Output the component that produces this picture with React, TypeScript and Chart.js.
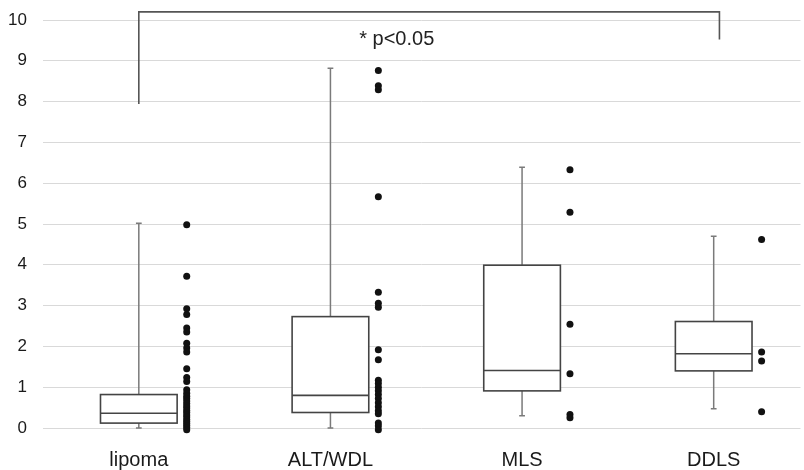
import React, { useEffect, useRef } from 'react';
import { Chart, registerables } from 'chart.js';

Chart.register(...registerables);

const categories = ['lipoma', 'ALT/WDL', 'MLS', 'DDLS'];
const whiskerLow = [0, 0, 0.3, 0.47];
const q1 = [0.12, 0.38, 0.91, 1.4];
const median = [0.36, 0.8, 1.41, 1.82];
const q3 = [0.82, 2.73, 3.99, 2.61];
const whiskerHigh = [5.02, 8.82, 6.39, 4.7];

const lipomaPoints = [4.98, 3.72, 2.92, 2.78, 2.45, 2.35, 2.08, 1.96, 1.86, 1.45, 1.24, 1.14, 0.94, 0.85, 0.78, 0.72, 0.66, 0.6, 0.54, 0.49, 0.43, 0.38, 0.32, 0.27, 0.21, 0.16, 0.11, 0.06, 0.01, -0.04, -0.09];
const altPoints = [8.76, 8.39, 8.29, 5.67, 3.33, 3.06, 2.96, 1.92, 1.67, 1.17, 1.09, 1.0, 0.91, 0.82, 0.72, 0.62, 0.52, 0.42, 0.35, 0.12, 0.05, -0.04, -0.09];
const mlsPoints = [6.33, 5.29, 2.54, 1.33, 0.33, 0.25];
const ddlsPoints = [4.62, 1.86, 1.64, 0.4];
const pointGroups = [lipomaPoints, altPoints, mlsPoints, ddlsPoints];

const yTickValues = [0, 1, 2, 3, 4, 5, 6, 7, 8, 9, 10];

const bracketX = [0, 3.03];
const bracketY = [7.94, 10.2, 9.52];
const sigLabel = '* p<0.05';
const sigLabelPos = [1.15, 9.38];

const BOX_HALF = 0.2;
const POINT_OFFSET = 0.25;
const CAP_HALF = 0.015;

const boxPlugin = {
  id: 'boxPlugin',
  beforeDatasetsDraw(chart: any) {
    const { ctx } = chart;
    const xs = chart.scales.x;
    const ys = chart.scales.y;
    ctx.save();
    categories.forEach((_, i) => {
      const cx = xs.getPixelForValue(i);
      const l = xs.getPixelForValue(i - BOX_HALF);
      const r = xs.getPixelForValue(i + BOX_HALF);
      const capL = xs.getPixelForValue(i - CAP_HALF);
      const capR = xs.getPixelForValue(i + CAP_HALF);
      const yLo = ys.getPixelForValue(whiskerLow[i]);
      const yQ1 = ys.getPixelForValue(q1[i]);
      const yMed = ys.getPixelForValue(median[i]);
      const yQ3 = ys.getPixelForValue(q3[i]);
      const yHi = ys.getPixelForValue(whiskerHigh[i]);
      ctx.strokeStyle = '#7a7a7a';
      ctx.lineWidth = 1.5;
      ctx.beginPath();
      ctx.moveTo(cx, yQ3);
      ctx.lineTo(cx, yHi);
      ctx.moveTo(capL, yHi);
      ctx.lineTo(capR, yHi);
      ctx.moveTo(cx, yQ1);
      ctx.lineTo(cx, yLo);
      ctx.moveTo(capL, yLo);
      ctx.lineTo(capR, yLo);
      ctx.stroke();
      ctx.fillStyle = '#ffffff';
      ctx.fillRect(l, yQ3, r - l, yQ1 - yQ3);
      ctx.strokeStyle = '#444444';
      ctx.lineWidth = 1.6;
      ctx.strokeRect(l, yQ3, r - l, yQ1 - yQ3);
      ctx.beginPath();
      ctx.moveTo(l, yMed);
      ctx.lineTo(r, yMed);
      ctx.stroke();
    });
    ctx.restore();
  },
  afterDatasetsDraw(chart: any) {
    const { ctx } = chart;
    const xs = chart.scales.x;
    const ys = chart.scales.y;
    ctx.save();
    ctx.strokeStyle = '#555555';
    ctx.lineWidth = 1.6;
    ctx.beginPath();
    ctx.moveTo(xs.getPixelForValue(bracketX[0]), ys.getPixelForValue(bracketY[0]));
    ctx.lineTo(xs.getPixelForValue(bracketX[0]), ys.getPixelForValue(bracketY[1]));
    ctx.lineTo(xs.getPixelForValue(bracketX[1]), ys.getPixelForValue(bracketY[1]));
    ctx.lineTo(xs.getPixelForValue(bracketX[1]), ys.getPixelForValue(bracketY[2]));
    ctx.stroke();
    ctx.fillStyle = '#222222';
    ctx.font = '20px "Liberation Sans", Arial, sans-serif';
    ctx.textAlign = 'left';
    ctx.textBaseline = 'alphabetic';
    ctx.fillText(sigLabel, xs.getPixelForValue(sigLabelPos[0]), ys.getPixelForValue(sigLabelPos[1]));
    ctx.restore();
  },
};

export default function App() {
  const ref = useRef<HTMLCanvasElement>(null);
  useEffect(() => {
    if (!ref.current) return;
    const datasets = pointGroups.map((pts, i) => ({
      type: 'scatter' as const,
      label: categories[i],
      data: pts.map((v) => ({ x: i + POINT_OFFSET, y: v })),
      pointRadius: 3.5,
      pointHoverRadius: 3.5,
      pointBackgroundColor: '#111111',
      pointBorderWidth: 0,
      clip: false as any,
    }));
    const chart = new Chart(ref.current, {
      type: 'scatter',
      data: { datasets },
      plugins: [boxPlugin],
      options: {
        animation: false,
        responsive: false,
        maintainAspectRatio: false,
        layout: { padding: { top: 20, left: 0, right: 0, bottom: 0 } },
        plugins: { legend: { display: false }, tooltip: { enabled: false } },
        scales: {
          x: {
            type: 'linear',
            min: -0.5,
            max: 3.453,
            afterBuildTicks: (scale: any) => {
              scale.ticks = categories.map((_, i) => ({ value: i }));
            },
            afterFit: (scale: any) => {
              scale.height = 42;
              scale.paddingLeft = 0;
              scale.paddingRight = 0;
            },
            grid: { display: false, drawTicks: false },
            border: { display: false },
            ticks: {
              padding: 20,
              autoSkip: false,
              maxRotation: 0,
              color: '#1a1a1a',
              font: { size: 20, family: '"Liberation Sans", Arial, sans-serif' },
              callback: (v: any) => categories[v as number] ?? '',
            },
          },
          y: {
            type: 'linear',
            min: 0,
            max: 10,
            afterBuildTicks: (scale: any) => {
              scale.ticks = yTickValues.map((v) => ({ value: v }));
            },
            afterFit: (scale: any) => {
              scale.width = 43;
              scale.paddingTop = 0;
              scale.paddingBottom = 0;
            },
            grid: { color: '#d9d9d9', lineWidth: 1, drawTicks: false },
            border: { display: false },
            ticks: {
              padding: 16,
              color: '#1a1a1a',
              font: { size: 17, family: '"Liberation Sans", Arial, sans-serif' },
            },
          },
        },
      },
    });
    return () => chart.destroy();
  }, []);
  return (
    <div style={{ position: 'absolute', left: 0, top: 0, width: 804, height: 470, background: '#fff' }}>
      <canvas ref={ref} width={804} height={470} style={{ width: 804, height: 470 }} />
    </div>
  );
}
